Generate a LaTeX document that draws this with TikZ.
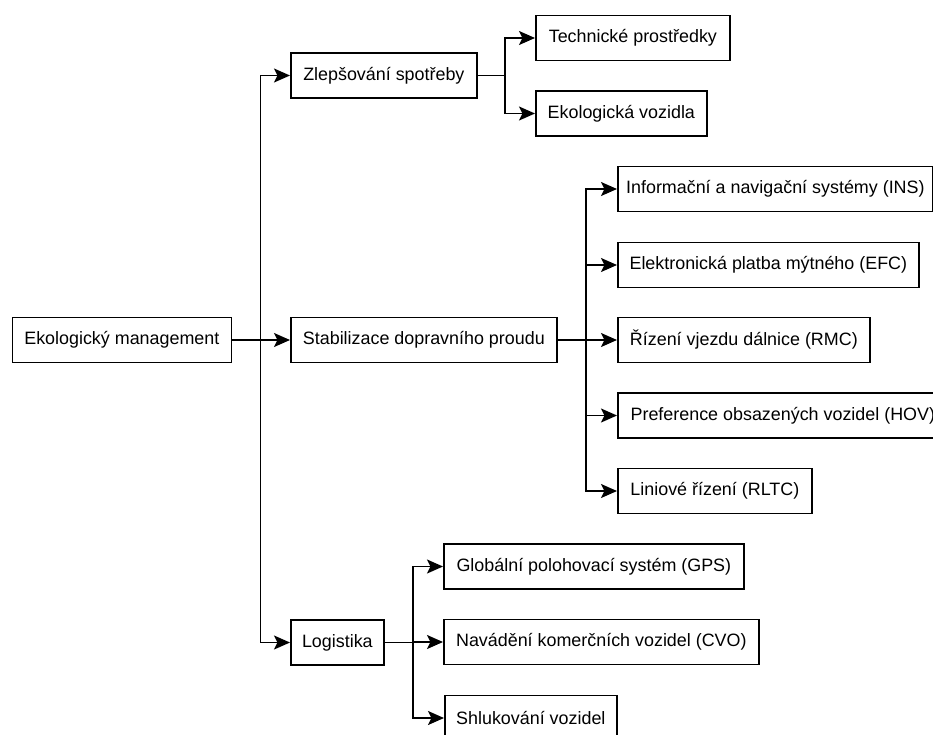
\documentclass[tikz,border=0pt]{standalone}
\usepackage{fontspec}
\setmainfont{Liberation Sans}
\usetikzlibrary{arrows.meta}
\begin{document}
\begin{tikzpicture}[x=1pt,y=-1pt,
  box/.style={draw=black, line width=1.7pt, fill=white, inner sep=0pt,
    anchor=west, minimum height=45pt, font=\fontsize{17.9}{21}\selectfont},
  link/.style={line width=1.7pt, -{Stealth[length=16pt,width=14pt,inset=3.5pt]}},
]
\useasboundingbox (0,0) rectangle (933,734);
\clip (0,0) rectangle (933,734);

% root and first level
\node[box, minimum width=219pt] (root) at (11.5,340) {Ekologický management};
\node[box, minimum width=186pt] (zlep) at (290,75.5) {Zlepšování spotřeby};
\node[box, minimum width=266pt] (stab) at (290,340) {Stabilizace dopravního proudu};
\node[box, minimum width=93pt]  (logi) at (290,642.5) {Logistika};

% consumption branch
\node[box, minimum width=194pt] (tech) at (535,38) {Technické prostředky};
\node[box, minimum width=171pt] (ekov) at (535,113.5) {Ekologická vozidla};

% traffic flow branch
\node[box, minimum width=315pt] (ins)  at (617,189) {Informační a navigační systémy (INS)};
\node[box, minimum width=301pt] (efc)  at (617,265) {Elektronická platba mýtného (EFC)};
\node[box, minimum width=252pt] (rmc)  at (617,340) {Řízení vjezdu dálnice (RMC)};
\node[box, minimum width=330pt] (hov)  at (617,415.5) {Preference obsazených vozidel (HOV)};
\node[box, minimum width=194pt] (rltc) at (617,491) {Liniové řízení (RLTC)};

% logistics branch
\node[box, minimum width=300pt] (gps) at (443,566.5) {Globální polohovací systém (GPS)};
\node[box, minimum width=315pt] (cvo) at (443,642) {Navádění komerčních vozidel (CVO)};
\node[box, minimum width=172pt] (shl) at (444,718) {Shlukování vozidel};

% vertical trunks of the tree
\coordinate (t0) at (260.5,0);
\coordinate (t1) at (505,0);
\coordinate (t2) at (586,0);
\coordinate (t3) at (413,0);

\foreach \c in {zlep,stab,logi}
  \draw[link] (root.east) -| (t0 |- \c.west) -- (\c.west);
\foreach \c in {tech,ekov}
  \draw[link] (zlep.east) -| (t1 |- \c.west) -- (\c.west);
\foreach \c in {ins,efc,rmc,hov,rltc}
  \draw[link] (stab.east) -| (t2 |- \c.west) -- (\c.west);
\foreach \c in {gps,cvo,shl}
  \draw[link] (logi.east) -| (t3 |- \c.west) -- (\c.west);
\end{tikzpicture}
\end{document}
